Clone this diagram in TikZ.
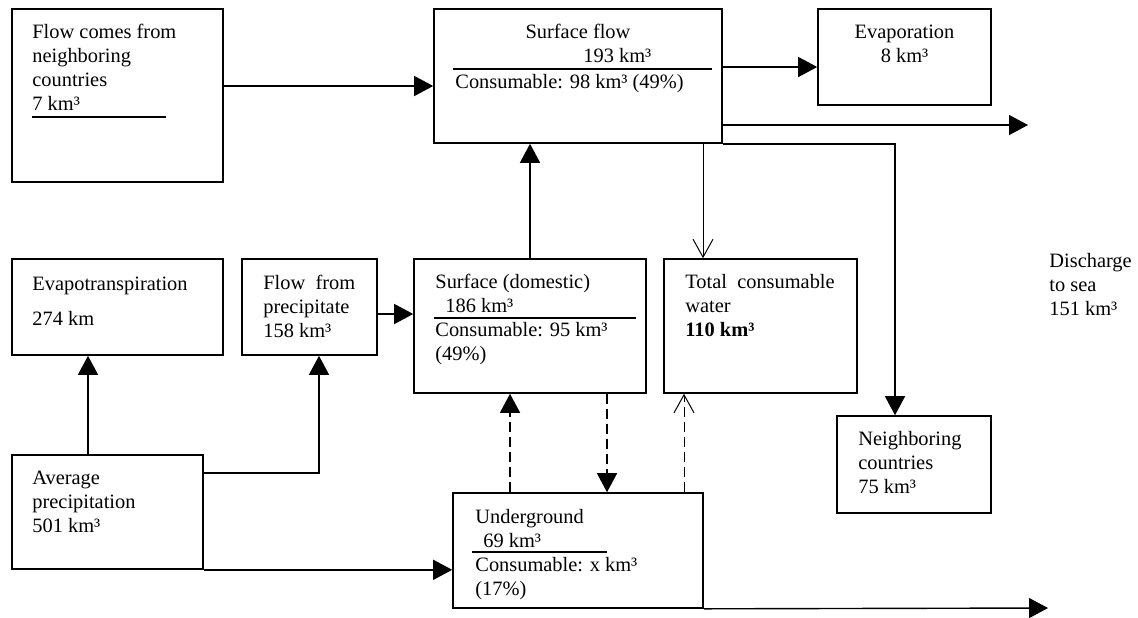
\documentclass[tikz,border=0pt]{standalone}
\usepackage{fontspec}
\setmainfont{Liberation Serif}
\usetikzlibrary{arrows.meta}
\usetikzlibrary{fit}

\begin{document}
\begin{tikzpicture}[
    x=0.5pt,
    y=-0.5pt,
    >={Triangle[length=9.5pt,width=10pt]},
    every node/.style={font=\fontsize{10.2pt}{12pt}\selectfont},
    box/.style={draw,line width=0.8pt,inner sep=0pt},
    txt/.style={anchor=base west,align=left,inner sep=0pt},
    flow/.style={->,line width=0.7pt},
    openflow/.style={-{Straight Barb[length=9pt,width=10pt]},line width=0.5pt},
    dashline/.style={dash pattern=on 5pt off 2.5pt}
]

\useasboundingbox (0,0) rectangle (1138,617);

%------------------------------------------------------------
% Boxes
%------------------------------------------------------------

\node[box,fit={(12,9) (223,182)}]   (inflow)  {};
\node[box,fit={(434,9) (722,143)}]  (sflow)   {};
\node[box,fit={(818,9) (991,105)}]  (evap)    {};
\node[box,fit={(12,259) (223,355)}] (evapotr) {};
\node[box,fit={(242,259) (377,355)}] (fprec)  {};
\node[box,fit={(414,259) (646,393)}] (sdom)   {};
\node[box,fit={(664,259) (857,393)}] (total)  {};
\node[box,fit={(837,416) (991,513)}] (neigh)  {};
\node[box,fit={(12,455) (203,569)}] (avgp)    {};
\node[box,fit={(453,493) (703,608)}] (under)  {};

%------------------------------------------------------------
% Texts (placed at the baseline of their last line)
%------------------------------------------------------------

\node[txt] (inflow-t) at (32,110)
{Flow comes from\\neighboring\\countries\\7 km³};

\node[anchor=base,inner sep=0pt] (sflow-t) at (578,38)
{Surface flow};

\node[txt] (sflow-v) at (583,62)
{193 km³};

\node[txt] (sflow-c) at (455,88)
{Consumable: 98 km³ (49\%)};

\node[anchor=base,align=center,inner sep=0pt] (evap-t) at (904.5,62)
{Evaporation\\8 km³};

\node[txt] (evapotr-t) at (32,325)
{Evapotranspiration\\[5.5pt]274 km};

\node[txt] (fprec-t) at (263,337)
{Flow\ \ from\\precipitate\\158 km³};

\node[txt] (sdom-t) at (435,360)
{Surface (domestic)\\\hspace*{5pt}186 km³\\Consumable: 95 km³\\(49\%)};

\node[txt] (total-t) at (685,336)
{Total\ \ consumable\\water\\\textbf{110 km³}};

\node[txt] (neigh-t) at (858,493)
{Neighboring\\countries\\75 km³};

\node[txt] (avgp-t) at (32,532)
{Average\\precipitation\\501 km³};

\node[txt] (under-t) at (475,595)
{Underground\\\hspace*{4pt}69 km³\\Consumable: x km³\\(17\%)};

\node[txt] (sea-t) at (1049,315)
{Discharge\\to sea\\151 km³};

% rules under the volumes
\draw[line width=0.8pt] (32,117)--(166,117);
\draw[line width=0.8pt] (453,69)--(712,69);
\draw[line width=0.8pt] (434,318)--(636,318);
\draw[line width=0.8pt] (472,552)--(607,552);

%------------------------------------------------------------
% Flows
%------------------------------------------------------------

\coordinate (sea)  at (1028,125);
\coordinate (sea2) at (1048,608);

\draw[flow] (inflow.east |- 0,86) -- (sflow.west |- 0,86);
\draw[flow] (sflow.east |- 0,67) -- (evap.west |- 0,67);
\draw[flow] (sflow.east |- 0,125) -- (sea);
\draw[flow] (sflow.south east) -| (neigh.north -| 895,0);

\draw[flow] (sdom.north) -- (sdom.north |- sflow.south);
\draw[openflow] (sflow.south -| 703,0) -- (total.north -| 703,0);

\draw[flow] (avgp.north -| 88,0) -- (evapotr.south -| 88,0);
\draw[flow] (avgp.east |- 0,473) -| (fprec.south -| 319,0);
\draw[flow] (fprec.east |- 0,314) -- (sdom.west |- 0,314);
\draw[flow] (avgp.south east) -- (under.west |- avgp.south east);

% groundwater exchange
\draw[flow,dashline] (under.north -| 510,0) -- (sdom.south -| 510,0);
\draw[flow,dashline] (sdom.south -| 607,0) -- (under.north -| 607,0);
\draw[openflow,dashline] (under.north -| 684,0) -- (total.south -| 684,0);

\draw[flow] (under.south east) -- (sea2);

\end{tikzpicture}
\end{document}
